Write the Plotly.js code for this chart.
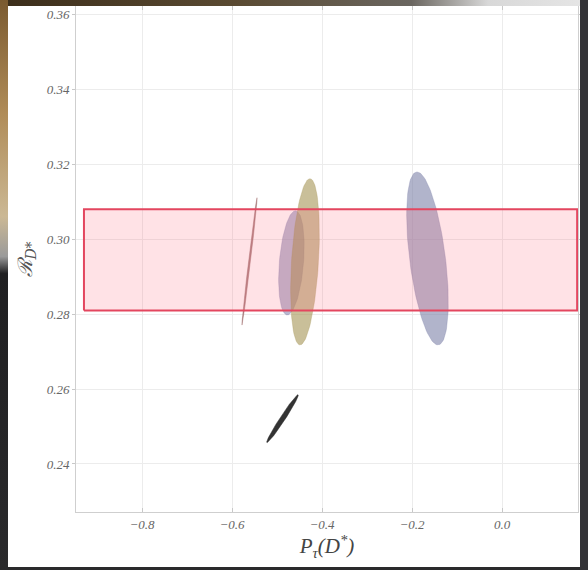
<!DOCTYPE html>
<html>
<head>
<meta charset="utf-8">
<script src="https://cdn.plot.ly/plotly-3.0.1.min.js"></script>
<style>
  html, body { margin: 0; padding: 0; width: 588px; height: 570px; overflow: hidden; background: #2a2a2c; }
  #top { position: absolute; left: 0; top: 0; width: 588px; height: 6px; background: linear-gradient(to right, #3b2d1a, #5a4a32 40%, #6a6660 70%, #d8d8d8 83%, #e6e6e6); }
  #left { position: absolute; left: 0; top: 0; width: 8px; height: 570px; background: linear-gradient(to bottom, #7a5a30, #b08c58 20%, #cbb894 38%, #9a9a9a 45%, #202022 48%, #2a2a2c); }
  #right { position: absolute; left: 580px; top: 0; width: 8px; height: 570px; background: #333337; }
  #chart { position: absolute; left: 8px; top: 6px; width: 572px; height: 561px; }
</style>
</head>
<body>
<div id="top"></div><div id="left"></div><div id="right"></div>
<div id="chart"></div>
<script>
// Ellipse regions: centre, top-tip offset, half-width in x
const ellipseNames  = ["thin", "dark", "midBlue", "olive", "rightBlue"];
const ellipseCx     = [-0.5611, -0.4878, -0.468, -0.4378, -0.1656];
const ellipseCy     = [0.2941, 0.2521, 0.2937, 0.2940, 0.2949];
const ellipseTipDx  = [0.0167, 0.0344, 0.009, 0.011, -0.0233];
const ellipseTipDy  = [0.0170, 0.0064, 0.0139, 0.0222, 0.0231];
const ellipseHalfW  = [0.0022, 0.0067, 0.027, 0.030, 0.040];
const ellipseColors = ["rgba(150,95,95,0.75)", "rgba(40,40,40,0.95)", "rgba(125,125,170,0.55)", "rgba(165,148,85,0.6)", "rgba(120,125,165,0.58)"];

// Pink band
const bandX = [-0.929, 0.167];
const bandY = [0.281, 0.308];

const xTicks = [-0.8, -0.6, -0.4, -0.2, 0.0];
const xTickText = ["\u22120.8", "\u22120.6", "\u22120.4", "\u22120.2", "0.0"];
const yTicks = [0.24, 0.26, 0.28, 0.30, 0.32, 0.34, 0.36];
const yTickText = ["0.24", "0.26", "0.28", "0.30", "0.32", "0.34", "0.36"];

const traces = [];
const N = 120;
for (let k = 0; k < ellipseNames.length; k++) {
  const xs = [], ys = [];
  for (let i = 0; i <= N; i++) {
    const t = 2 * Math.PI * i / N;
    xs.push(ellipseCx[k] + Math.cos(t) * ellipseTipDx[k] + Math.sin(t) * ellipseHalfW[k]);
    ys.push(ellipseCy[k] + Math.cos(t) * ellipseTipDy[k]);
  }
  traces.push({
    type: "scatter", mode: "lines", x: xs, y: ys, fill: "toself",
    fillcolor: ellipseColors[k], line: { width: 0.5, color: ellipseColors[k] },
    hoverinfo: "skip", showlegend: false
  });
}
traces.push({
  type: "scatter", mode: "lines",
  x: [bandX[0], bandX[1], bandX[1], bandX[0], bandX[0]],
  y: [bandY[0], bandY[0], bandY[1], bandY[1], bandY[0]],
  fill: "toself", fillcolor: "rgba(255,110,130,0.2)",
  line: { color: "#e3465f", width: 2 }, showlegend: false, hoverinfo: "skip"
});

const ital = s => "<i>" + s + "</i>";
const tickFont = { family: "Liberation Serif, DejaVu Serif, serif", size: 13, color: "#666" };
const layout = {
  width: 572, height: 561,
  margin: { l: 68, r: 2, t: 0, b: 55 },
  paper_bgcolor: "#ffffff", plot_bgcolor: "#ffffff",
  showlegend: false,
  xaxis: {
    range: [-0.9467, 0.1689], tickvals: xTicks, ticktext: xTickText.map(ital),
    tickfont: tickFont, showgrid: true, gridcolor: "#ececec", gridwidth: 1,
    zeroline: false, showline: true, linecolor: "#cfcfcf", linewidth: 1, mirror: "ticks",
    ticks: "inside", ticklen: 4, tickcolor: "#c8c8c8",
    title: { text: "<i>P<sub>\u03c4</sub>(D<sup>*</sup>)</i>", font: { family: "Liberation Serif, DejaVu Serif, serif", size: 21, color: "#444" }, standoff: 6 }
  },
  yaxis: {
    range: [0.22718, 0.3623], tickvals: yTicks, ticktext: yTickText.map(ital),
    tickfont: tickFont, showgrid: true, gridcolor: "#ececec", gridwidth: 1,
    zeroline: false, showline: true, linecolor: "#cfcfcf", linewidth: 1, mirror: "ticks",
    ticks: "outside", ticklen: 3, tickcolor: "#c8c8c8",
    title: { text: "<i>\u211b<sub>D*</sub></i>", font: { family: "DejaVu Serif, Liberation Serif, serif", size: 20, color: "#555" }, standoff: 8 }
  }
};
Plotly.newPlot("chart", traces, layout, { displayModeBar: false, staticPlot: true });
</script>
</body>
</html>
